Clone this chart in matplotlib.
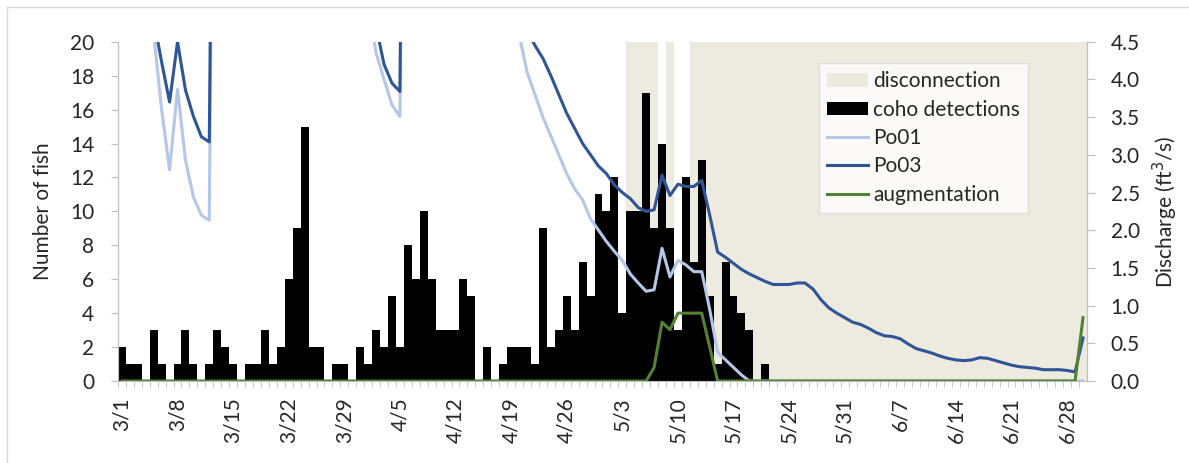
import matplotlib

matplotlib.use("Agg")

import matplotlib.pyplot as plt
import numpy as np
import pandas as pd
from matplotlib.lines import Line2D
from matplotlib.patches import Patch

plt.rcParams["font.family"] = ["Lato", "DejaVu Sans"]

# daily series, 3/1 .. 6/30
dates = pd.date_range("2021-03-01", "2021-06-30", freq="D")
date_labels = [f"{d.month}/{d.day}" for d in dates]

coho_detections = [
    2, 1, 1, 0, 3, 1, 0, 1, 3, 1, 0, 1, 3, 2, 1, 0, 1, 1, 3, 1, 2, 6, 9, 15, 2, 2, 0, 1, 1,  # March 1-29
    0, 2, 1, 3, 2, 5, 2, 8, 6, 10, 6, 3, 3, 3, 6, 5, 0, 2, 0, 1, 2, 2, 2, 1, 9, 2, 3, 5, 3, 7,  # 3/30-4/28
    5, 11, 10, 12, 4, 10, 10, 17, 9, 14, 9, 3, 12, 7, 13, 5, 1, 7, 5, 4, 3, 0, 1,  # 4/29-5/21
    0, 0, 0, 0, 0, 0, 0, 0, 0, 0, 0, 0, 0, 0, 0, 0, 0, 0, 0, 0,
    0, 0, 0, 0, 0, 0, 0, 0, 0, 0, 0, 0, 0, 0, 0, 0, 0, 0, 0, 0,
]

# discharge (ft3/s); values above 4.5 run off the top of the chart
po01 = [
    6.5, 6.0, 5.6, 5.2, 4.6, 3.6, 2.8, 3.87, 2.93, 2.44, 2.2, 2.13,
    15, 9, 9, 9, 9, 9, 9, 9, 9, 9, 9, 9, 9, 9, 9, 9, 9, 8, 6.5, 5.0,
    4.35, 4.0, 3.66, 3.51,
    15, 9, 9, 9, 9, 9, 9, 9, 9, 9, 8, 7, 6, 5.2,
    4.6, 4.1, 3.8, 3.5, 3.25, 3.0, 2.75, 2.55, 2.4, 2.15, 2.0, 1.85, 1.72, 1.6, 1.42, 1.3,
    1.19, 1.21, 1.76, 1.38, 1.6, 1.54, 1.45, 1.45, 0.95, 0.38, 0.28, 0.18, 0.08,
    0, 0, 0, 0, 0, 0, 0, 0, 0, 0, 0, 0, 0, 0, 0, 0, 0, 0, 0, 0, 0, 0,
    0, 0, 0, 0, 0, 0, 0, 0, 0, 0, 0, 0, 0, 0, 0, 0, 0, 0, 0, 0, 0,
]
po03 = [
    7.0, 6.5, 6.0, 5.5, 4.8, 4.23, 3.7, 4.5, 3.86, 3.51, 3.24, 3.17,
    15, 10, 10, 10, 10, 10, 10, 10, 10, 10, 10, 10, 10, 10, 10, 10, 10, 9, 7, 6,
    4.7, 4.2, 3.95, 3.84,
    15, 10, 10, 10, 10, 10, 10, 10, 10, 10, 9, 8, 7, 6, 5.2,
    4.65, 4.45, 4.28, 4.05, 3.8, 3.55, 3.35, 3.15, 3.0, 2.85, 2.75, 2.6, 2.5, 2.42, 2.3,
    2.25, 2.27, 2.73, 2.46, 2.61, 2.58, 2.58, 2.66, 2.2, 1.71, 1.64, 1.56, 1.48, 1.42,
    1.37, 1.32, 1.28, 1.28, 1.28, 1.30, 1.30, 1.22, 1.08, 0.97, 0.90, 0.84, 0.78, 0.75,
    0.70, 0.64, 0.60, 0.59, 0.56, 0.49, 0.43, 0.40, 0.37, 0.33, 0.30, 0.28, 0.27, 0.28,
    0.31, 0.30, 0.27, 0.24, 0.21, 0.19, 0.18, 0.17, 0.15, 0.15, 0.15, 0.14, 0.12, 0.57,
]
augmentation = [0.0] * 67 + [0.18, 0.78, 0.68, 0.9, 0.9, 0.9, 0.9, 0.45] + [0.0] * 46 + [0.84]

# disconnection periods, first and last day index (inclusive)
disconnection_start = [64, 69, 72]
disconnection_end = [67, 69, 121]

TAN = "#EDEAE0"
LIGHT_BLUE = "#B4C7E7"
DARK_BLUE = "#2F5597"
GREEN = "#548235"
SPINE = "#BFBFBF"
TEXT = "#262626"
FS = 15

days = np.arange(len(dates))

fig = plt.figure(figsize=(11.89, 4.63), dpi=100)
ax = fig.add_axes([0.0992, 0.1771, 0.8150, 0.7328])

for start, end in zip(disconnection_start, disconnection_end):
    ax.axvspan(start - 0.5, end + 0.5, color=TAN, linewidth=0, zorder=0)
ax.bar(days, coho_detections, width=1.0, color="black", linewidth=0, zorder=2)

ax.set_xlim(-0.5, len(days) - 0.5)
ax.set_ylim(0, 20)
ax.set_yticks(np.arange(0, 21, 2))
ax.set_ylabel("Number of fish", fontsize=FS, color=TEXT, labelpad=12)

ax2 = ax.twinx()
ax2.plot(days, po01, color=LIGHT_BLUE, linewidth=2.2, zorder=3)
ax2.plot(days, po03, color=DARK_BLUE, linewidth=2.2, zorder=4)
ax2.plot(days, augmentation, color=GREEN, linewidth=2.2, zorder=5)
ax2.set_ylim(0, 4.5)
ax2.set_yticks(np.arange(0, 4.51, 0.5))
ax2.set_yticklabels([f"{v:.1f}" for v in np.arange(0, 4.51, 0.5)])
ax2.set_ylabel("Discharge (ft$^3$/s)", fontsize=FS, color=TEXT, labelpad=8)

label_days = days[::7]
ax.set_xticks(label_days)
ax.set_xticklabels([date_labels[i] for i in label_days], rotation=90)
ax.set_xticks(days - 0.5, minor=True)
ax.tick_params(axis="x", which="major", length=0, pad=12, labelsize=FS, colors=TEXT)
ax.tick_params(axis="x", which="minor", length=4, color=SPINE)
ax.tick_params(axis="y", length=5, color=SPINE, pad=12, labelsize=FS, labelcolor=TEXT)
ax2.tick_params(axis="y", length=6, color=SPINE, pad=11, labelsize=FS, labelcolor=TEXT)

for a in (ax, ax2):
    a.spines["top"].set_visible(False)
    for side in ("left", "right", "bottom"):
        a.spines[side].set_color(SPINE)
ax2.spines["bottom"].set_visible(False)

handles = [
    Patch(facecolor=TAN, edgecolor="none"),
    Patch(facecolor="black", edgecolor="none"),
    Line2D([], [], color=LIGHT_BLUE, linewidth=2.2),
    Line2D([], [], color=DARK_BLUE, linewidth=2.2),
    Line2D([], [], color=GREEN, linewidth=2.2),
]
labels = ["disconnection", "coho detections", "Po01", "Po03", "augmentation"]
leg = ax2.legend(
    handles,
    labels,
    loc="upper left",
    bbox_to_anchor=(819 / 1189, 1 - 63 / 463),
    bbox_transform=fig.transFigure,
    fontsize=FS,
    frameon=True,
    fancybox=False,
    borderaxespad=0,
    handlelength=1.95,
    handleheight=0.6,
    handletextpad=0.25,
    labelspacing=0.4,
    borderpad=0.4,
)
leg.get_frame().set_edgecolor("#D9D9D9")
leg.get_frame().set_linewidth(1.0)
for t in leg.get_texts():
    t.set_color(TEXT)

# outer chart-area border (only top and left edges are in frame)
fig.add_artist(Line2D([6.5 / 1189, 1], [1 - 7 / 463, 1 - 7 / 463], color="#D9D9D9", linewidth=1.0))
fig.add_artist(Line2D([6.5 / 1189, 6.5 / 1189], [0, 1 - 7 / 463], color="#D9D9D9", linewidth=1.0))

fig.savefig("out.png", dpi=100, facecolor="white")
